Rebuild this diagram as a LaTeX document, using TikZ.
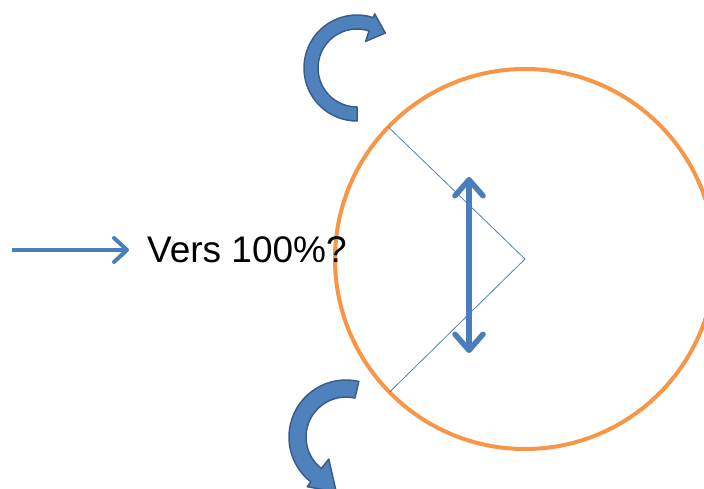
\documentclass[tikz,border=0pt]{standalone}
\usepackage{fontspec}
\setmainfont{Liberation Sans}
\usetikzlibrary{arrows.meta,calc}
\definecolor{arrowblue}{HTML}{4A7EBB}
\definecolor{fillblue}{HTML}{4F81BD}
\definecolor{edgeblue}{HTML}{385D8A}
\definecolor{ringorange}{HTML}{F79646}
\tikzset{
  curvedarrow/.style={fill=fillblue,draw=edgeblue,line width=1.5pt,line join=round},
  thinline/.style={draw=fillblue,line width=0.8pt},
  ring/.style={draw=ringorange,line width=4pt},
  bigarrow/.style={draw=arrowblue,line width=5.5pt,line cap=round,
    arrows={Straight Barb[length=16pt,width=28pt,line cap=round,line join=round]-Straight Barb[length=16pt,width=28pt,line cap=round,line join=round]}},
  leftarrow/.style={draw=arrowblue,line width=4pt,
    -{Straight Barb[length=13pt,width=24pt,line cap=round,line join=round]}},
  label/.style={inner sep=0pt,font=\fontsize{37}{40}\selectfont}
}
\begin{document}
\begin{tikzpicture}[x=1pt,y=1pt,yscale=-1]
\useasboundingbox (0,0) rectangle (704,488);
\clip (0,0) rectangle (704,488);
\coordinate (c) at (525,259);
\coordinate (t) at (357,68);
\coordinate (b) at (346,437);
% ring
\draw[ring] (c) circle[radius=190];
% radii
\coordinate (p1) at ($(c)+(224:190)$);
\coordinate (p2) at ($(c)+(135.5:190)$);
\draw[thinline] (p1) -- (c);
\draw[thinline] (p2) -- (c);
% double arrow
\coordinate (dtop) at (469,177);
\coordinate (dbot) at (469,353);
\draw[bigarrow] (dtop) -- (dbot);
% left arrow and text
\coordinate (la) at (12,250);
\node[label,anchor=base west] (txt) at (147,262) {Vers 100\%?};
\coordinate (lb) at (129,250);
\draw[leftarrow] (la) -- (lb);
% top curved arrow
\path[curvedarrow] ($(t)+(90:53)$) arc[start angle=90,end angle=288,radius=53]
  -- ($(t)+(288:57)$) -- ($(t)+(309:45)$) -- ($(t)+(288:28)$) -- ($(t)+(288:39)$)
  arc[start angle=288,end angle=90,radius=39] -- cycle;
% bottom curved arrow
\path[curvedarrow] ($(b)+(283:57)$) arc[start angle=283,end angle=128,radius=57]
  -- ($(b)+(128:63)$) -- ($(b)+(100:56)$) -- ($(b)+(128:28)$) -- ($(b)+(128:40)$)
  arc[start angle=128,end angle=283,radius=40] -- cycle;
\end{tikzpicture}
\end{document}
